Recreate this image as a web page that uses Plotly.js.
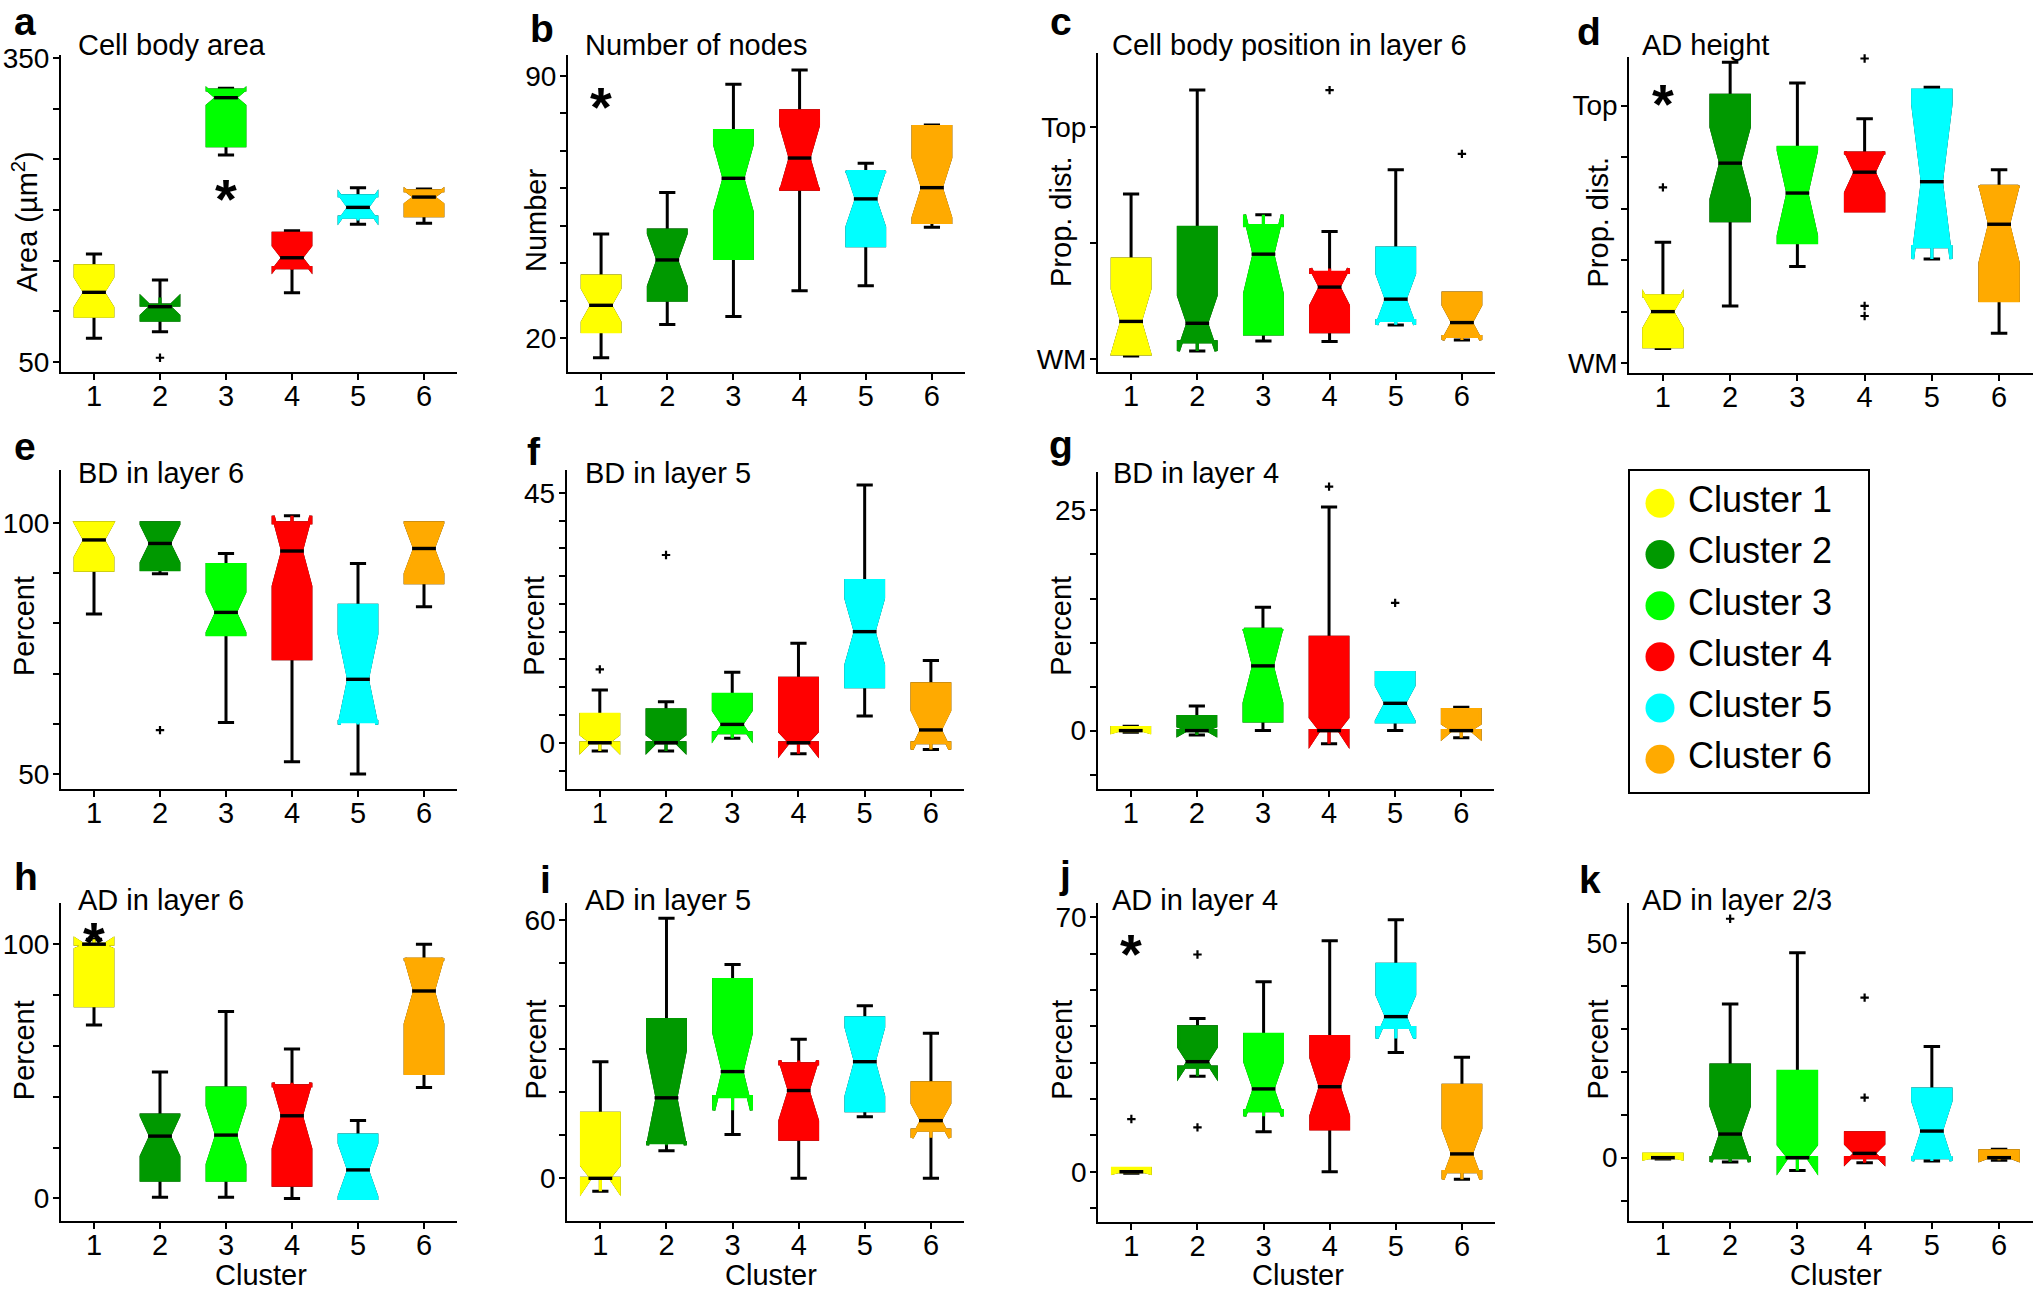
<!DOCTYPE html>
<html><head><meta charset="utf-8">
<script src="https://cdn.plot.ly/plotly-3.0.1.min.js"></script>
<style>html,body{margin:0;padding:0;background:#fff}#chart{width:2040px;height:1290px}</style>
</head><body><div id="chart"></div>
<script>
// ---------- shared ----------
const clusters = [1, 2, 3, 4, 5, 6];
const clusterNames = ['Cluster 1', 'Cluster 2', 'Cluster 3', 'Cluster 4', 'Cluster 5', 'Cluster 6'];
const clusterColors = ['#ffff00', '#009900', '#00ff00', '#ff0000', '#00ffff', '#ffaa00'];

// ---------- a: Cell body area ----------
const areaLow   = [73.1, 79.6, 254.4, 118.2, 185.8, 186.8];
const areaQ1    = [95.1, 91.2, 263.6, 143.0, 193.0, 194.4];
const areaMed   = [118.6, 104.4, 311.1, 152.8, 202.6, 212.8];
const areaQ3    = [144.9, 106.0, 318.7, 176.9, 214.0, 219.0];
const areaHigh  = [156.5, 130.8, 320.3, 179.5, 222.1, 220.8];
const areaNotch = [15, 9, 8, 12, 13, 7];
const areaOutX  = [2];
const areaOutY  = [53.9];
const areaTickVals = [50, 100, 150, 200, 250, 300, 350];
const areaTickText = ['50', '', '', '', '', '', '350'];

// ---------- b: Number of nodes ----------
const nodesLow   = [14.8, 23.7, 25.8, 32.7, 34.0, 49.6];
const nodesQ1    = [21.8, 30.2, 41.3, 59.8, 44.7, 50.9];
const nodesMed   = [28.8, 40.9, 62.7, 68.1, 57.2, 60.2];
const nodesQ3    = [36.6, 48.9, 75.4, 80.7, 64.5, 76.5];
const nodesHigh  = [47.8, 58.9, 87.8, 91.6, 66.7, 76.9];
const nodesNotch = [4.5, 7, 9, 8.7, 7.5, 8];
const nodesOutX  = [];
const nodesOutY  = [];
const nodesTickVals = [20, 30, 40, 50, 60, 70, 80, 90];
const nodesTickText = ['20', '', '', '', '', '', '', '90'];

// ---------- c: Cell body position in layer 6 ----------
const posLow   = [0.014, 0.045, 0.079, 0.076, 0.148, 0.094];
const posQ1    = [0.023, 0.075, 0.109, 0.119, 0.167, 0.098];
const posMed   = [0.163, 0.155, 0.453, 0.311, 0.259, 0.158];
const posQ3    = [0.432, 0.568, 0.576, 0.374, 0.479, 0.285];
const posHigh  = [0.712, 1.160, 0.606, 0.551, 0.817, 0.285];
const posNotch = [0.14, 0.12, 0.17, 0.08, 0.11, 0.075];
const posOutX  = [4, 6];
const posOutY  = [1.16, 0.885];
const posTickVals = [0, 0.5, 1];
const posTickText = ['WM', '', 'Top'];

// ---------- d: AD height ----------
const htLow   = [0.058, 0.223, 0.376, 0.592, 0.443, 0.117];
const htQ1    = [0.065, 0.554, 0.469, 0.592, 0.453, 0.244];
const htMed   = [0.201, 0.777, 0.661, 0.742, 0.705, 0.540];
const htQ3    = [0.262, 1.040, 0.838, 0.816, 1.060, 0.687];
const htHigh  = [0.470, 1.168, 1.088, 0.949, 1.071, 0.751];
const htNotch = [0.065, 0.14, 0.165, 0.08, 0.3, 0.15];
const htOutX  = [1, 4, 4, 4];
const htOutY  = [0.683, 1.183, 0.223, 0.184];
const htTickVals = [0, 0.2, 0.4, 0.6, 0.8, 1];
const htTickText = ['WM', '', '', '', '', 'Top'];

// ---------- e: BD in layer 6 ----------
const bd6Low   = [81.9, 89.9, 60.3, 52.5, 50.1, 83.3];
const bd6Q1    = [90.6, 90.7, 77.8, 73.0, 60.5, 88.1];
const bd6Med   = [96.6, 95.9, 82.2, 94.4, 68.9, 94.9];
const bd6Q3    = [100, 100, 91.7, 100, 83.6, 100];
const bd6High  = [100, 100, 93.9, 100, 91.9, 100];
const bd6Notch = [3.4, 3.8, 4, 7, 9, 5];
const bd6OutX  = [2];
const bd6OutY  = [58.8];
const bd6TickVals = [50, 60, 70, 80, 90, 100];
const bd6TickText = ['50', '', '', '', '', '100'];

// ---------- f: BD in layer 5 ----------
const bd5Low   = [0, 0, 1.8, 0, 4.8, 0];
const bd5Q1    = [0, 0, 1.8, 0, 10.1, 0];
const bd5Med   = [0, 0, 3.3, 0, 20.0, 2.3];
const bd5Q3    = [5.1, 5.9, 8.7, 11.6, 29.2, 10.6];
const bd5High  = [9.5, 7.4, 12.7, 17.9, 46.4, 14.8];
const bd5Notch = [1.5, 1.5, 2.5, 2, 6, 3.5];
const bd5OutX  = [1, 2];
const bd5OutY  = [13.2, 33.8];
const bd5TickVals = [-5, 0, 5, 10, 15, 20, 25, 30, 35, 40, 45];
const bd5TickText = ['', '0', '', '', '', '', '', '', '', '', '45'];

// ---------- g: BD in layer 4 ----------
const bd4Low   = [0, 0, 0, 0, 0, 0];
const bd4Q1    = [0, 0, 1.1, 0, 1.0, 0];
const bd4Med   = [0, 0, 7.35, 0, 3.1, 0];
const bd4Q3    = [0.35, 1.6, 11.5, 10.6, 6.6, 2.4];
const bd4High  = [0.5, 2.8, 14.0, 25.4, 6.6, 2.65];
const bd4Notch = [0.2, 0.5, 4.2, 1.5, 2, 0.8];
const bd4OutX  = [4, 5];
const bd4OutY  = [27.7, 14.5];
const bd4TickVals = [-5, 0, 5, 10, 15, 20, 25];
const bd4TickText = ['', '0', '', '', '', '', '25'];

// ---------- h: AD in layer 6 ----------
const ad6Low   = [68.2, 0.4, 0.4, 0, 0, 43.6];
const ad6Q1    = [75.8, 7.2, 7.2, 5.2, 0, 49.2];
const ad6Med   = [100, 24.5, 24.9, 32.5, 11.2, 81.6];
const ad6Q3    = [100, 32.8, 43.4, 44.3, 24.9, 94.1];
const ad6High  = [100, 49.7, 73.5, 58.8, 30.6, 100];
const ad6Notch = [2, 8, 11.5, 13, 10.5, 13];
const ad6OutX  = [];
const ad6OutY  = [];
const ad6TickVals = [0, 20, 40, 60, 80, 100];
const ad6TickText = ['0', '', '', '', '', '100'];

// ---------- i: AD in layer 5 ----------
const ad5Low   = [0, 6.4, 10.2, 0, 14.3, 0];
const ad5Q1    = [0, 8.3, 19.0, 9.1, 15.7, 11.2];
const ad5Med   = [0, 18.7, 24.8, 20.4, 27.1, 13.4];
const ad5Q3    = [15.1, 36.9, 46.2, 26.6, 37.3, 22.2];
const ad5High  = [27.1, 60.4, 49.7, 32.3, 40.1, 33.7];
const ad5Notch = [3, 11, 9, 7, 8, 4];
const ad5OutX  = [];
const ad5OutY  = [];
const ad5TickVals = [0, 10, 20, 30, 40, 50, 60];
const ad5TickText = ['0', '', '', '', '', '', '60'];

// ---------- j: AD in layer 4 ----------
const ad4Low   = [0, 28.8, 11.0, 0, 32.8, 0];
const ad4Q1    = [0, 28.8, 16.8, 11.8, 39.7, 0];
const ad4Med   = [0, 30.3, 22.8, 23.4, 42.7, 4.9];
const ad4Q3    = [0.9, 39.9, 37.8, 37.2, 57.1, 23.8];
const ad4High  = [0.9, 42.2, 52.3, 63.6, 69.4, 31.5];
const ad4Notch = [0.4, 4, 7.5, 8, 6, 7];
const ad4OutX  = [1, 2, 2];
const ad4OutY  = [14.5, 59.8, 12.2];
const ad4TickVals = [-10, 0, 10, 20, 30, 40, 50, 60, 70];
const ad4TickText = ['', '0', '', '', '', '', '', '', '70'];

// ---------- k: AD in layer 2/3 ----------
const ad23Low   = [0, 0, 0, 0, 0, 0];
const ad23Q1    = [0, 0, 0, 0, 0, 0];
const ad23Med   = [0, 5.5, 0, 1.0, 6.2, 0];
const ad23Q3    = [0.8, 21.6, 20.1, 5.8, 16.0, 1.6];
const ad23High  = [0.8, 35.8, 47.8, 5.8, 25.9, 1.94];
const ad23Notch = [0.3, 6.5, 3, 2.2, 7, 0.6];
const ad23OutX  = [2, 4, 4];
const ad23OutY  = [55.7, 37.3, 14.0];
const ad23TickVals = [-10, 0, 10, 20, 30, 40, 50];
const ad23TickText = ['', '0', '', '', '', '', '50'];

// ---------- asterisks (significance marks) ----------
const starPanels = ['a', 'b', 'd', 'h', 'j'];
const starX = [3, 1, 1, 1, 1];
const starY = [223, 85.1, 1.056, 105.6, 63.3];

// ---------- layout helpers ----------
const W = 2040, H = 1290;
const FONT = 'Liberation Sans, Arial, Helvetica, sans-serif';

const panels = [
  {id:'a', title:'Cell body area', ytitle:'Area (µm<sup>2</sup>)', low:areaLow, q1:areaQ1, med:areaMed, q3:areaQ3, high:areaHigh, notch:areaNotch, ox:areaOutX, oy:areaOutY, tv:areaTickVals, tt:areaTickText,
   box:[61, 457, 55, 372], yr:[39.8, 353.3], letter:[11.7, 21.5], tpos:[76, 45], ytpos:[25, 222]},
  {id:'b', title:'Number of nodes', ytitle:'Number', low:nodesLow, q1:nodesQ1, med:nodesMed, q3:nodesQ3, high:nodesHigh, notch:nodesNotch, ox:nodesOutX, oy:nodesOutY, tv:nodesTickVals, tt:nodesTickText,
   box:[568, 965, 55, 372], yr:[11, 95.6], letter:[528.3, 28.2], tpos:[582.7, 45], ytpos:[536, 221]},
  {id:'c', title:'Cell body position in layer 6', ytitle:'Prop. dist.', low:posLow, q1:posQ1, med:posMed, q3:posQ3, high:posHigh, notch:posNotch, ox:posOutX, oy:posOutY, tv:posTickVals, tt:posTickText,
   box:[1098, 1495, 53, 372], yr:[-0.055, 1.32], letter:[1048.3, 21.5], tpos:[1110, 45], ytpos:[1061, 222]},
  {id:'d', title:'AD height', ytitle:'Prop. dist.', low:htLow, q1:htQ1, med:htMed, q3:htQ3, high:htHigh, notch:htNotch, ox:htOutX, oy:htOutY, tv:htTickVals, tt:htTickText,
   box:[1629.3, 2032.7, 56.7, 372.7], yr:[-0.036, 1.19], letter:[1575, 31.5], tpos:[1640, 45], ytpos:[1597.5, 222]},
  {id:'e', title:'BD in layer 6', ytitle:'Percent', low:bd6Low, q1:bd6Q1, med:bd6Med, q3:bd6Q3, high:bd6High, notch:bd6Notch, ox:bd6OutX, oy:bd6OutY, tv:bd6TickVals, tt:bd6TickText,
   box:[61, 457, 470, 789], yr:[47.1, 110.5], letter:[11.7, 446.5], tpos:[76, 472.8], ytpos:[24.2, 625.8]},
  {id:'f', title:'BD in layer 5', ytitle:'Percent', low:bd5Low, q1:bd5Q1, med:bd5Med, q3:bd5Q3, high:bd5High, notch:bd5Notch, ox:bd5OutX, oy:bd5OutY, tv:bd5TickVals, tt:bd5TickText,
   box:[566.7, 964, 470, 789], yr:[-8.33, 49.1], letter:[525, 451.5], tpos:[582.7, 472.8], ytpos:[534, 625.8]},
  {id:'g', title:'BD in layer 4', ytitle:'Percent', low:bd4Low, q1:bd4Q1, med:bd4Med, q3:bd4Q3, high:bd4High, notch:bd4Notch, ox:bd4OutX, oy:bd4OutY, tv:bd4TickVals, tt:bd4TickText,
   box:[1097.7, 1494.3, 471.7, 789], yr:[-6.63, 29.4], letter:[1046.7, 444.5], tpos:[1111, 472.8], ytpos:[1061, 625.8]},
  {id:'h', title:'AD in layer 6', ytitle:'Percent', low:ad6Low, q1:ad6Q1, med:ad6Med, q3:ad6Q3, high:ad6High, notch:ad6Notch, ox:ad6OutX, oy:ad6OutY, tv:ad6TickVals, tt:ad6TickText,
   box:[61, 457, 903.3, 1221], yr:[-8.9, 116.1], letter:[11.7, 876.5], tpos:[76, 899.5], ytpos:[24.2, 1050], xt:[261, 1275]},
  {id:'i', title:'AD in layer 5', ytitle:'Percent', low:ad5Low, q1:ad5Q1, med:ad5Med, q3:ad5Q3, high:ad5High, notch:ad5Notch, ox:ad5OutX, oy:ad5OutY, tv:ad5TickVals, tt:ad5TickText,
   box:[567.3, 964, 903.3, 1220.7], yr:[-9.85, 63.9], letter:[538, 879.5], tpos:[582.7, 899.5], ytpos:[535.5, 1050], xt:[770.5, 1275]},
  {id:'j', title:'AD in layer 4', ytitle:'Percent', low:ad4Low, q1:ad4Q1, med:ad4Med, q3:ad4Q3, high:ad4High, notch:ad4Notch, ox:ad4OutX, oy:ad4OutY, tv:ad4TickVals, tt:ad4TickText,
   box:[1098.3, 1495, 903.3, 1221.7], yr:[-13.76, 73.9], letter:[1057, 874.5], tpos:[1110, 899.5], ytpos:[1061.7, 1050], xt:[1297.5, 1275]},
  {id:'k', title:'AD in layer 2/3', ytitle:'Percent', low:ad23Low, q1:ad23Q1, med:ad23Med, q3:ad23Q3, high:ad23High, notch:ad23Notch, ox:ad23OutX, oy:ad23OutY, tv:ad23TickVals, tt:ad23TickText,
   box:[1629.3, 2032.7, 903.3, 1220.7], yr:[-14.7, 59.3], letter:[1577, 879.5], tpos:[1640, 899.5], ytpos:[1597.5, 1050], xt:[1836, 1275]}
];

const px = x => x / W;
const py = y => 1 - y / H;

const data = [];
const annotations = [];
const layout = {
  width: W, height: H, autosize: false,
  margin: {l: 0, r: 0, t: 0, b: 0, pad: 0},
  paper_bgcolor: '#ffffff', plot_bgcolor: 'rgba(0,0,0,0)',
  font: {family: FONT, color: '#000000', size: 28},
  showlegend: false,
  boxmode: 'overlay',
  annotations: annotations,
  shapes: []
};

const BOXW = 0.57;

panels.forEach((p, idx) => {
  const n = idx + 1;
  const xs = n === 1 ? '' : String(n);
  const xref = 'x' + xs, yref = 'y' + xs;
  const axCommon = {
    showline: true, linewidth: 2, linecolor: '#000', mirror: false,
    ticks: 'outside', ticklen: 6, tickwidth: 2, tickcolor: '#000',
    showgrid: false, zeroline: false, fixedrange: true,
    tickmode: 'array'
  };
  layout['xaxis' + xs] = Object.assign({}, axCommon, {
    domain: [px(p.box[0]), px(p.box[1])], range: [0.5, 6.5], anchor: yref,
    tickvals: clusters, ticktext: clusters.map(String), ticklabelstandoff: -9,
    tickfont: {family: FONT, size: 29, color: '#000'}
  });
  layout['yaxis' + xs] = Object.assign({}, axCommon, {
    domain: [py(p.box[3]), py(p.box[2])], range: p.yr, anchor: xref,
    tickvals: p.tv, ticktext: p.tt, ticklabelstandoff: -2,
    tickfont: {family: FONT, size: 28, color: '#000'}
  });

  // black whiskers (one trace for the panel)
  data.push({
    type: 'box', orientation: 'v', xaxis: xref, yaxis: yref,
    x: clusters, q1: p.q1, median: p.med, q3: p.q3,
    lowerfence: p.low, upperfence: p.high,
    notched: true, notchspan: p.notch, notchwidth: 0.25,
    width: BOXW, whiskerwidth: 0.43, boxpoints: false,
    line: {color: '#000', width: 3}, fillcolor: 'rgba(0,0,0,0)',
    hoverinfo: 'skip', showlegend: false
  });
  // coloured notched boxes
  clusters.forEach((c, k) => {
    data.push({
      type: 'box', orientation: 'v', xaxis: xref, yaxis: yref,
      x: [c], q1: [p.q1[k]], median: [p.med[k]], q3: [p.q3[k]],
      lowerfence: [p.q1[k]], upperfence: [p.q3[k]],
      notched: true, notchspan: [p.notch[k]], notchwidth: 0.25,
      width: BOXW, whiskerwidth: 0, boxpoints: false,
      line: {color: clusterColors[k], width: 3.2}, fillcolor: clusterColors[k],
      name: clusterNames[k], hoverinfo: 'skip', showlegend: false
    });
  });
  // black median bars
  data.push({
    type: 'scatter', mode: 'markers', xaxis: xref, yaxis: yref,
    x: clusters, y: p.med, cliponaxis: false,
    marker: {symbol: 'line-ew', size: 17, color: '#000', line: {width: 3.4, color: '#000'}},
    hoverinfo: 'skip', showlegend: false
  });
  // outliers
  if (p.ox.length) {
    data.push({
      type: 'scatter', mode: 'markers', xaxis: xref, yaxis: yref,
      x: p.ox, y: p.oy, cliponaxis: false,
      marker: {symbol: 'cross-thin', size: 6, color: '#000', line: {width: 2.2, color: '#000'}},
      hoverinfo: 'skip', showlegend: false
    });
  }

  // panel letter
  annotations.push({xref: 'paper', yref: 'paper', x: px(p.letter[0]), y: py(p.letter[1]),
    xanchor: 'left', yanchor: 'middle', showarrow: false, text: '<b>' + p.id + '</b>',
    font: {family: FONT, size: 39, color: '#000'}});
  // panel title
  annotations.push({xref: 'paper', yref: 'paper', x: px(p.tpos[0]), y: py(p.tpos[1]),
    xanchor: 'left', yanchor: 'middle', showarrow: false, text: p.title,
    font: {family: FONT, size: 29, color: '#000'}});
  // y axis title
  annotations.push({xref: 'paper', yref: 'paper', x: px(p.ytpos[0]), y: py(p.ytpos[1]),
    xanchor: 'center', yanchor: 'middle', showarrow: false, text: p.ytitle, textangle: -90,
    font: {family: FONT, size: 29, color: '#000'}});
  // x axis title
  if (p.xt) {
    annotations.push({xref: 'paper', yref: 'paper', x: px(p.xt[0]), y: py(p.xt[1]),
      xanchor: 'center', yanchor: 'middle', showarrow: false, text: 'Cluster',
      font: {family: FONT, size: 29, color: '#000'}});
  }
});

// asterisks
starPanels.forEach((id, s) => {
  const n = panels.findIndex(p => p.id === id) + 1;
  const xs = n === 1 ? '' : String(n);
  annotations.push({xref: 'x' + xs, yref: 'y' + xs, x: starX[s], y: starY[s],
    xanchor: 'center', yanchor: 'middle', yshift: -12, showarrow: false, text: '<b>*</b>',
    font: {family: FONT, size: 56, color: '#000'}});
});

// ---------- legend panel (drawn as its own small axes) ----------
const LG = [1629, 1869, 470, 793];
layout.xaxis12 = {domain: [px(LG[0]), px(LG[1])], range: [-1.107, 7.464], visible: false, fixedrange: true, anchor: 'y12'};
layout.yaxis12 = {domain: [py(LG[3]), py(LG[2])], range: [6.66, 0.35], visible: false, fixedrange: true, anchor: 'x12'};
data.push({
  type: 'scatter', mode: 'markers', xaxis: 'x12', yaxis: 'y12',
  x: clusters.map(() => 0), y: clusters,
  marker: {symbol: 'circle', size: 29, color: clusterColors, line: {width: 0}},
  hoverinfo: 'skip', showlegend: false
});
data.push({
  type: 'scatter', mode: 'text', xaxis: 'x12', yaxis: 'y12',
  x: clusters.map(() => 1), y: clusters, text: clusterNames,
  textposition: 'middle right', textfont: {family: FONT, size: 36, color: '#000'},
  hoverinfo: 'skip', showlegend: false
});
layout.shapes.push({type: 'rect', xref: 'paper', yref: 'paper',
  x0: px(LG[0]), x1: px(LG[1]), y0: py(LG[3]), y1: py(LG[2]),
  line: {color: '#000', width: 2}, fillcolor: 'rgba(0,0,0,0)'});

Plotly.newPlot('chart', data, layout, {staticPlot: true, displayModeBar: false});
</script>
</body></html>
